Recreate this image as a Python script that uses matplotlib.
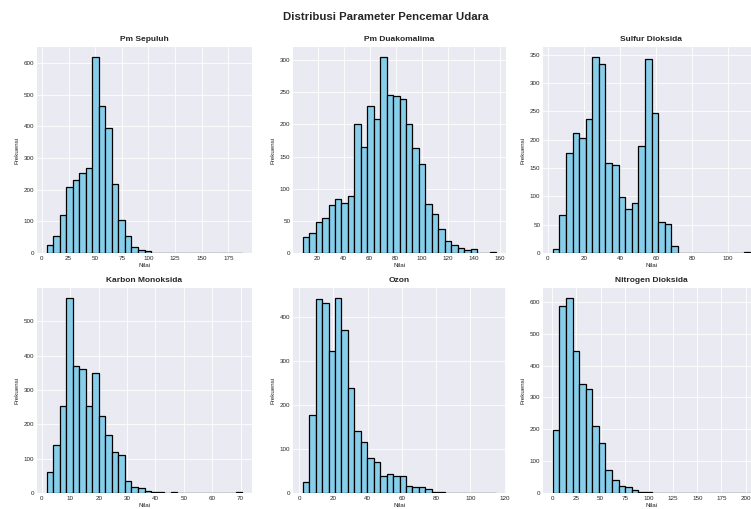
import numpy as np
import matplotlib
matplotlib.use("Agg")
import matplotlib.pyplot as plt
from matplotlib.ticker import MultipleLocator

plt.style.use("seaborn-v0_8-darkgrid")
plt.rcParams["font.family"] = ["Liberation Sans", "DejaVu Sans"]

judul = ["Pm Sepuluh", "Pm Duakomalima", "Sulfur Dioksida",
         "Karbon Monoksida", "Ozon", "Nitrogen Dioksida"]

# rentang bin (30 bin) dan frekuensi tiap bin
rentang_pm10 = [4.6, 188.0]
frek_pm10 = [25, 55, 120, 210, 232, 252, 268, 620, 465, 395, 218, 105, 55, 20, 8,
             5, 0, 0, 1, 0, 0, 1, 0, 0, 0, 1, 0, 0, 0, 1]

rentang_pm25 = [8.5, 157.5]
frek_pm25 = [25, 31, 48, 54, 74, 84, 78, 88, 200, 165, 228, 208, 305, 246, 244,
             240, 200, 163, 138, 76, 61, 38, 18, 13, 8, 5, 6, 0, 0, 2]

rentang_so2 = [2.8, 112.3]
frek_so2 = [7, 67, 177, 211, 202, 237, 346, 333, 158, 156, 99, 78, 89, 188, 343,
            247, 54, 51, 12, 0, 0, 0, 0, 0, 0, 0, 0, 0, 0, 2]

rentang_co = [1.7, 70.6]
frek_co = [62, 140, 252, 568, 370, 362, 253, 350, 225, 168, 120, 110, 35, 18, 15,
           7, 3, 2, 0, 2, 0, 1, 0, 0, 1, 0, 0, 0, 0, 2]

rentang_o3 = [2.0, 115.1]
frek_o3 = [25, 178, 440, 430, 323, 443, 370, 238, 140, 115, 80, 70, 38, 43, 38,
           38, 15, 13, 14, 10, 2, 2, 0, 1, 0, 0, 0, 0, 0, 1]

rentang_no2 = [0.7, 204.7]
frek_no2 = [198, 588, 613, 445, 342, 325, 210, 157, 72, 40, 22, 20, 8, 3, 3,
            1, 0, 0, 0, 0, 0, 0, 0, 0, 0, 0, 1, 0, 0, 1]

rentang = [rentang_pm10, rentang_pm25, rentang_so2, rentang_co, rentang_o3, rentang_no2]
frek = [frek_pm10, frek_pm25, frek_so2, frek_co, frek_o3, frek_no2]
langkah_x = [25, 20, 20, 10, 20, 25]
langkah_y = [100, 50, 50, 100, 100, 100]

W, H = 751, 509
fig = plt.figure(figsize=(W / 100, H / 100), dpi=100)

# posisi sumbu dalam piksel (kiri, kanan, atas, bawah)
kolom = [(37, 252), (293, 506), (543, 760)]
baris = [(47, 253), (288, 493)]

for i in range(6):
    r, c = divmod(i, 3)
    x0, x1 = kolom[c]
    y0, y1 = baris[r]
    ax = fig.add_axes([x0 / W, 1 - y1 / H, (x1 - x0) / W, (y1 - y0) / H])
    edges = np.linspace(rentang[i][0], rentang[i][1], 31)
    ax.hist(edges[:-1], bins=edges, weights=frek[i], color="skyblue",
            edgecolor="black", linewidth=0.9)
    ax.set_title(judul[i], fontsize=6, fontweight="bold", pad=4)
    ax.set_xlabel("Nilai", fontsize=4.5, labelpad=1.5)
    ax.set_ylabel("Frekuensi", fontsize=4.5, labelpad=3)
    ax.xaxis.set_major_locator(MultipleLocator(langkah_x[i]))
    ax.yaxis.set_major_locator(MultipleLocator(langkah_y[i]))
    ax.tick_params(labelsize=4.5, pad=2)
    ax.grid(True, color="white", linewidth=0.6)

fig.text(386 / W, 1 - 17 / H, "Distribusi Parameter Pencemar Udara",
         ha="center", va="center", fontsize=8.2, fontweight="bold")

fig.savefig("out.png", dpi=100)
